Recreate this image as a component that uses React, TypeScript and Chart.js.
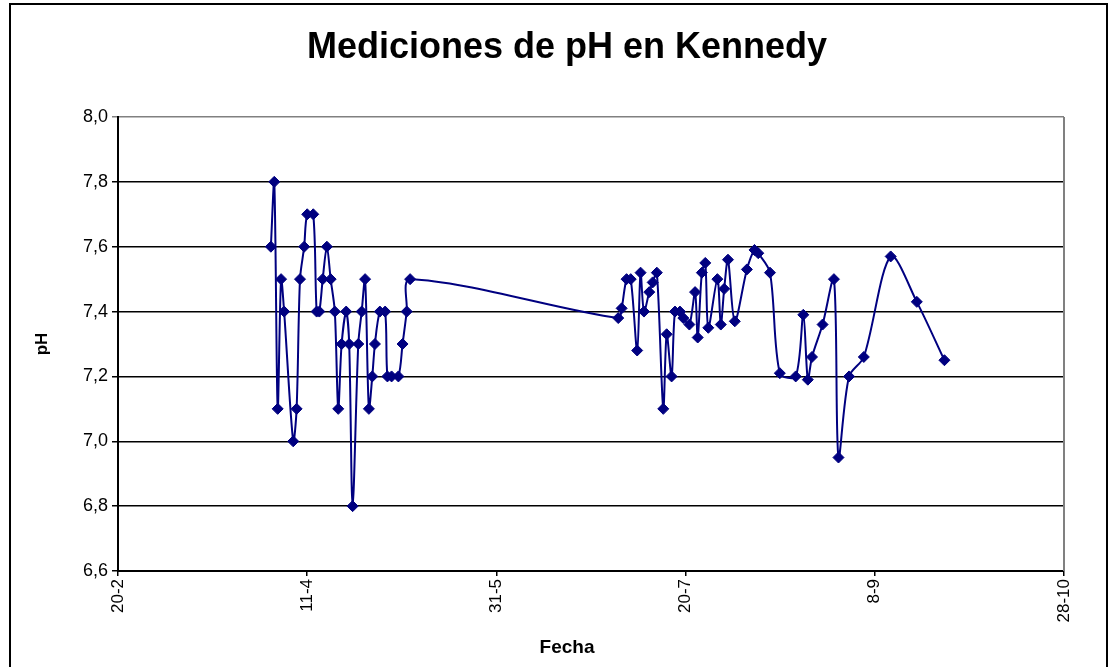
import React, { useEffect, useRef } from "react";
import { Chart, registerables } from "chart.js";

Chart.register(...registerables);

// Days since 20-Feb (x) and pH readings (y)
const measurementDays: number[] = [
  40.4, 41.3, 42.2, 43.1, 43.9, 46.3, 47.2, 48.1, 49.2, 50.0,
  51.6, 52.5, 53.2, 54.1, 55.2, 56.2, 57.3, 58.2, 59.1, 60.3,
  61.1, 62.0, 63.5, 64.4, 65.3, 66.3, 67.2, 67.9, 69.2, 70.6,
  71.2, 72.3, 74.1, 75.2, 76.3, 77.2,
  132.2, 133.1, 134.4, 135.5, 137.2, 138.1, 139.0, 140.4, 141.3, 142.4,
  144.1, 145.0, 146.3, 147.2, 148.5, 149.4, 151.0, 152.5, 153.2, 154.3,
  155.2, 156.0, 158.4, 159.3, 160.2, 161.2, 163.0, 166.2, 168.2, 169.2,
  172.3, 174.9, 179.1, 181.1, 182.3, 183.4, 186.2, 189.2, 190.4, 193.2,
  197.1, 204.2, 211.1, 218.4,
];

const phValues: number[] = [
  7.6, 7.8, 7.1, 7.5, 7.4, 7.0, 7.1, 7.5, 7.6, 7.7,
  7.7, 7.4, 7.4, 7.5, 7.6, 7.5, 7.4, 7.1, 7.3, 7.4,
  7.3, 6.8, 7.3, 7.4, 7.5, 7.1, 7.2, 7.3, 7.4, 7.4,
  7.2, 7.2, 7.2, 7.3, 7.4, 7.5,
  7.38, 7.41, 7.5, 7.5, 7.28, 7.52, 7.4, 7.46, 7.49, 7.52,
  7.1, 7.33, 7.2, 7.4, 7.4, 7.38, 7.36, 7.46, 7.32, 7.52,
  7.55, 7.35, 7.5, 7.36, 7.47, 7.56, 7.37, 7.53, 7.59, 7.58,
  7.52, 7.21, 7.2, 7.39, 7.19, 7.26, 7.36, 7.5, 6.95, 7.2,
  7.26, 7.57, 7.43, 7.25,
];

const xTickLabels: string[] = ["20-2", "11-4", "31-5", "20-7", "8-9", "28-10"];
const xMin = 0;
const xMax = 250;
const xStep = 50;
const yMin = 6.6;
const yMax = 8.0;
const yStep = 0.2;

const chartTitle = "Mediciones de pH en Kennedy";
const xAxisTitle = "Fecha";
const yAxisTitle = "pH";

const FONT = "'Liberation Sans', Arial, Helvetica, sans-serif";
const NAVY = "#000080";

const framePlugin = {
  id: "frame",
  beforeDraw(chart: any) {
    const { ctx } = chart;
    ctx.save();
    ctx.fillStyle = "#fff";
    ctx.fillRect(0, 0, chart.width, chart.height);
    ctx.strokeStyle = "#000";
    ctx.lineWidth = 2;
    ctx.strokeRect(10, 4, 1097, 680);
    ctx.restore();
  },
  afterDraw(chart: any) {
    const { ctx, chartArea } = chart;
    ctx.save();
    ctx.strokeStyle = "#808080";
    ctx.lineWidth = 2;
    ctx.beginPath();
    ctx.moveTo(chartArea.right, chartArea.top);
    ctx.lineTo(chartArea.right, chartArea.bottom);
    ctx.stroke();
    // x-axis title, centred on the whole chart object as in the original
    ctx.fillStyle = "#000";
    ctx.font = `bold 19px ${FONT}`;
    ctx.textAlign = "center";
    ctx.textBaseline = "middle";
    ctx.fillText(xAxisTitle, 567, 648);
    ctx.restore();
  },
};

export default function App() {
  const canvasRef = useRef<HTMLCanvasElement | null>(null);

  useEffect(() => {
    if (!canvasRef.current) return;
    const points = measurementDays.map((d, i) => ({ x: d, y: phValues[i] }));
    const chart = new Chart(canvasRef.current, {
      type: "line",
      data: {
        datasets: [
          {
            label: "pH",
            data: points,
            borderColor: NAVY,
            backgroundColor: NAVY,
            borderWidth: 2,
            tension: 0.3,
            pointStyle: "rectRot",
            pointRadius: 5.5,
            pointBorderWidth: 1,
            pointBorderColor: NAVY,
            pointBackgroundColor: NAVY,
            fill: false,
          },
        ],
      },
      options: {
        animation: false,
        responsive: true,
        maintainAspectRatio: false,
        layout: { padding: { left: 70, right: 52, top: 0, bottom: 0 } },
        plugins: {
          legend: { display: false },
          tooltip: { enabled: false },
          title: {
            display: true,
            text: chartTitle,
            color: "#000",
            font: { family: FONT, size: 36, weight: "bold" },
            padding: { top: 26, bottom: 47.8 },
          },
        },
        scales: {
          x: {
            type: "linear",
            min: xMin,
            max: xMax,
            afterFit(scale: any) {
              scale.height = 96;
            },
            ticks: {
              stepSize: xStep,
              minRotation: 90,
              maxRotation: 90,
              color: "#000",
              padding: 3,
              font: { family: FONT, size: 17 },
              callback: (_v: any, i: number) => xTickLabels[i],
            },
            grid: {
              drawOnChartArea: false,
              drawTicks: true,
              tickLength: 5,
              color: "#000",
              lineWidth: 1.5,
            },
            border: { display: true, color: "#000", width: 2 },
            title: { display: false, text: xAxisTitle },
          },
          y: {
            type: "linear",
            min: yMin,
            max: yMax,
            afterFit(scale: any) {
              scale.width = 48;
            },
            ticks: {
              stepSize: yStep,
              color: "#000",
              padding: 4,
              font: { family: FONT, size: 18 },
              callback: (v: any) => Number(v).toFixed(1).replace(".", ","),
            },
            grid: {
              drawTicks: true,
              tickLength: 6,
              color: (ctx: any) =>
                ctx.tick && Math.abs(ctx.tick.value - yMax) < 1e-6 ? "#808080" : "#000",
              lineWidth: 1.5,
            },
            border: { display: true, color: "#000", width: 2 },
            title: {
              display: true,
              text: yAxisTitle,
              color: "#000",
              font: { family: FONT, size: 17, weight: "bold" },
              padding: { top: -38, bottom: 0 },
            },
          },
        },
      },
      plugins: [framePlugin],
    });
    return () => chart.destroy();
  }, []);

  return (
    <div style={{ position: "fixed", left: 0, top: 0, width: 1116, height: 667, background: "#fff" }}>
      <canvas ref={canvasRef} />
    </div>
  );
}
